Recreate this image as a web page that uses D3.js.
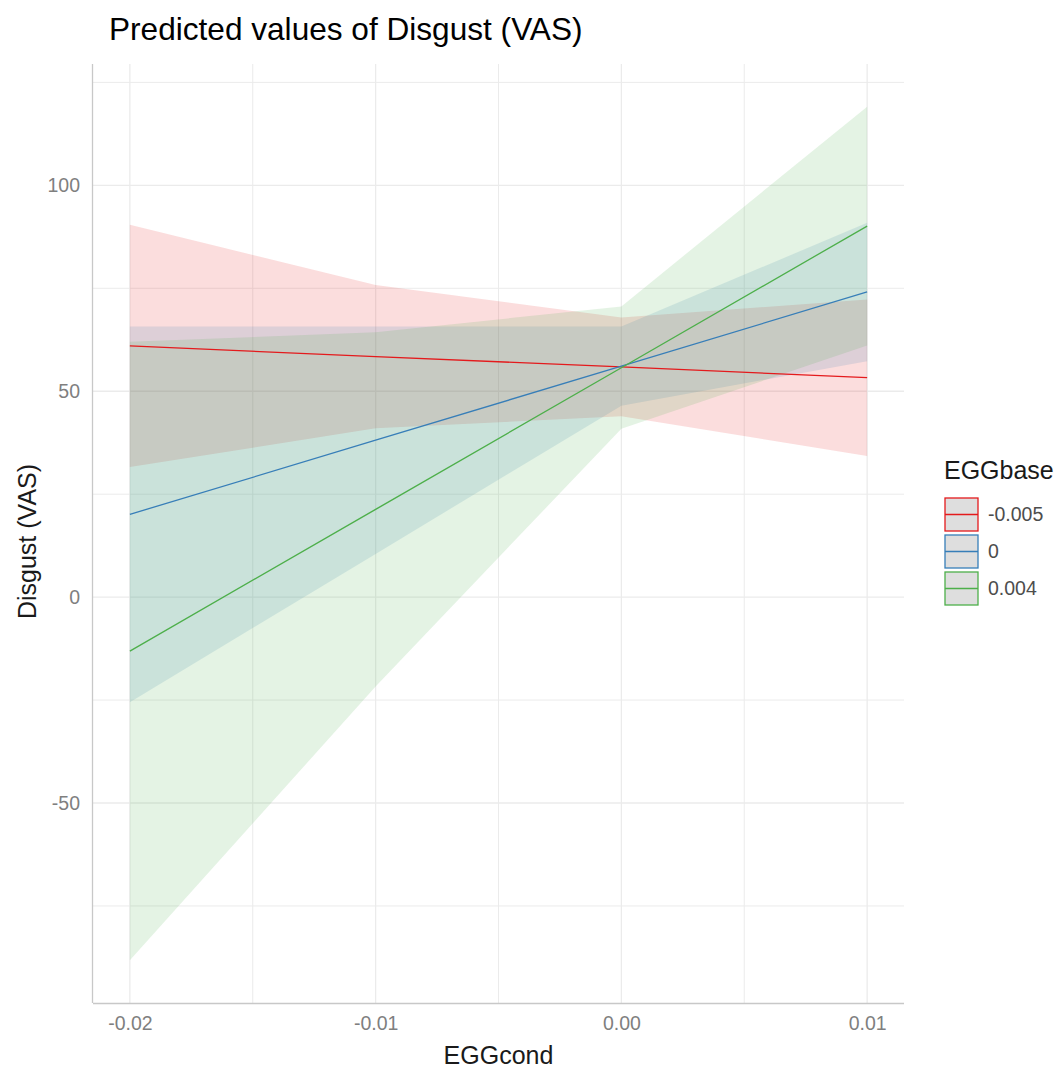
<!DOCTYPE html>
<html>
<head>
<meta charset="utf-8">
<script src="https://cdn.jsdelivr.net/npm/d3@7"></script>
<style>
  html, body { margin: 0; padding: 0; background: #ffffff; }
  svg { display: block; font-family: "Liberation Sans", Arial, sans-serif; }
</style>
</head>
<body>
<svg id="chart" width="1061" height="1072"></svg>
<script>
// Predicted values of Disgust (VAS) by EGGcond, one line per EGGbase level
const eggCond = [-0.02, -0.01, 0.00, 0.01];
const eggBaseLevels = ["-0.005", "0", "0.004"];
const seriesColors = ["#E41A1C", "#377EB8", "#4DAF4A"];

// predicted values and 95% confidence bounds at each EGGcond value
const predNeg005 = [61.0, 58.4, 55.9, 53.3];
const lowNeg005  = [31.6, 41.0, 43.9, 34.3];
const highNeg005 = [90.4, 75.8, 67.9, 72.3];

const predZero = [20.1, 38.1, 56.1, 74.1];
const lowZero  = [-25.5, 10.5, 46.5, 57.3];
const highZero = [65.7, 65.7, 65.7, 90.9];

const predPos004 = [-13.1, 21.3, 55.7, 90.1];
const lowPos004  = [-88.2, -21.7, 40.9, 61.1];
const highPos004 = [62.0, 64.3, 70.6, 119.1];

const xTicks = [-0.02, -0.01, 0.00, 0.01];
const xTickLabels = ["-0.02", "-0.01", "0.00", "0.01"];
const xMinor = [-0.015, -0.005, 0.005];
const yTicks = [-50, 0, 50, 100];
const yTickLabels = ["-50", "0", "50", "100"];
const yMinor = [-75, -25, 25, 75, 125];

const series = eggBaseLevels.map((lvl, i) => {
  const p = [predNeg005, predZero, predPos004][i];
  const lo = [lowNeg005, lowZero, lowPos004][i];
  const hi = [highNeg005, highZero, highPos004][i];
  return {
    level: lvl,
    color: seriesColors[i],
    points: eggCond.map((x, j) => ({ x, y: p[j], lo: lo[j], hi: hi[j] }))
  };
});

const svg = d3.select("#chart");
const panel = { left: 93, right: 904, top: 64, bottom: 1003 };

// ggplot-style 5% expansion of the data range
function expand(ext) {
  const pad = (ext[1] - ext[0]) * 0.05;
  return [ext[0] - pad, ext[1] + pad];
}
const allX = eggCond;
const allY = series.flatMap(s => s.points.flatMap(p => [p.lo, p.hi]));

const x = d3.scaleLinear().domain(expand(d3.extent(allX))).range([panel.left, panel.right]);
const y = d3.scaleLinear().domain(expand(d3.extent(allY))).range([panel.bottom, panel.top]);

// grid
const grid = svg.append("g");
grid.selectAll("line.ymin").data(yMinor.filter(v => y(v) >= panel.top && y(v) <= panel.bottom)).join("line")
  .attr("x1", panel.left).attr("x2", panel.right)
  .attr("y1", d => y(d)).attr("y2", d => y(d))
  .attr("stroke", "#EBEBEB").attr("stroke-width", 1);
grid.selectAll("line.xmin").data(xMinor).join("line")
  .attr("y1", panel.top).attr("y2", panel.bottom)
  .attr("x1", d => x(d)).attr("x2", d => x(d))
  .attr("stroke", "#EBEBEB").attr("stroke-width", 1);
grid.selectAll("line.ymaj").data(yTicks).join("line")
  .attr("x1", panel.left).attr("x2", panel.right)
  .attr("y1", d => y(d)).attr("y2", d => y(d))
  .attr("stroke", "#EBEBEB").attr("stroke-width", 1.3);
grid.selectAll("line.xmaj").data(xTicks).join("line")
  .attr("y1", panel.top).attr("y2", panel.bottom)
  .attr("x1", d => x(d)).attr("x2", d => x(d))
  .attr("stroke", "#EBEBEB").attr("stroke-width", 1.3);

// confidence ribbons
const area = d3.area().x(d => x(d.x)).y0(d => y(d.lo)).y1(d => y(d.hi));
svg.append("g").selectAll("path").data(series).join("path")
  .attr("d", d => area(d.points))
  .attr("fill", d => d.color).attr("fill-opacity", 0.15);

// prediction lines
const line = d3.line().x(d => x(d.x)).y(d => y(d.y));
svg.append("g").selectAll("path").data(series).join("path")
  .attr("d", d => line(d.points))
  .attr("fill", "none").attr("stroke", d => d.color).attr("stroke-width", 1.3);

// axis lines
svg.append("line").attr("x1", panel.left - 0.5).attr("x2", panel.left - 0.5)
  .attr("y1", panel.top).attr("y2", panel.bottom)
  .attr("stroke", "#C8C8C8").attr("stroke-width", 1.3);
svg.append("line").attr("x1", panel.left).attr("x2", panel.right)
  .attr("y1", panel.bottom + 0.5).attr("y2", panel.bottom + 0.5)
  .attr("stroke", "#C8C8C8").attr("stroke-width", 1.3);

// axes (labels only, ggplot minimal style)
const xAxis = d3.axisBottom(x).tickValues(xTicks).tickFormat((d, i) => xTickLabels[i]).tickSize(0).tickPadding(13);
const gx = svg.append("g").attr("transform", `translate(0,${panel.bottom})`).call(xAxis);
gx.select(".domain").remove();
gx.selectAll("text").attr("font-size", 19.5).attr("fill", "#7F7F7F").attr("font-family", "Liberation Sans, Arial, sans-serif");

const yAxis = d3.axisLeft(y).tickValues(yTicks).tickFormat((d, i) => yTickLabels[i]).tickSize(0).tickPadding(13);
const gy = svg.append("g").attr("transform", `translate(${panel.left},0)`).call(yAxis);
gy.select(".domain").remove();
gy.selectAll("text").attr("font-size", 19.5).attr("fill", "#7F7F7F").attr("font-family", "Liberation Sans, Arial, sans-serif");

// titles
svg.append("text").attr("x", 109).attr("y", 40)
  .attr("font-size", 31.6).attr("fill", "#000").text("Predicted values of Disgust (VAS)");
svg.append("text").attr("x", (panel.left + panel.right) / 2).attr("y", 1064)
  .attr("text-anchor", "middle").attr("font-size", 25).attr("fill", "#1A1A1A").text("EGGcond");
svg.append("text").attr("transform", `translate(36,${(panel.top + panel.bottom) / 2 + 8}) rotate(-90)`)
  .attr("text-anchor", "middle").attr("font-size", 25).attr("fill", "#1A1A1A").text("Disgust (VAS)");

// legend
const legend = svg.append("g").attr("transform", "translate(944,0)");
legend.append("text").attr("x", 0).attr("y", 479).attr("font-size", 25).attr("fill", "#1A1A1A").text("EGGbase");
const keys = legend.selectAll("g.key").data(series).join("g")
  .attr("transform", (d, i) => `translate(0,${498 + i * 37})`);
keys.append("rect").attr("x", 1).attr("y", 0).attr("width", 33).attr("height", 33)
  .attr("fill", "#DEDEDE").attr("stroke", d => d.color).attr("stroke-width", 1.3);
keys.append("line").attr("x1", 1).attr("x2", 34).attr("y1", 16.5).attr("y2", 16.5)
  .attr("stroke", d => d.color).attr("stroke-width", 1.3);
keys.append("text").attr("x", 44).attr("y", 16.5).attr("dy", "0.35em")
  .attr("font-size", 19.5).attr("fill", "#4D4D4D").text(d => d.level);
</script>
</body>
</html>
